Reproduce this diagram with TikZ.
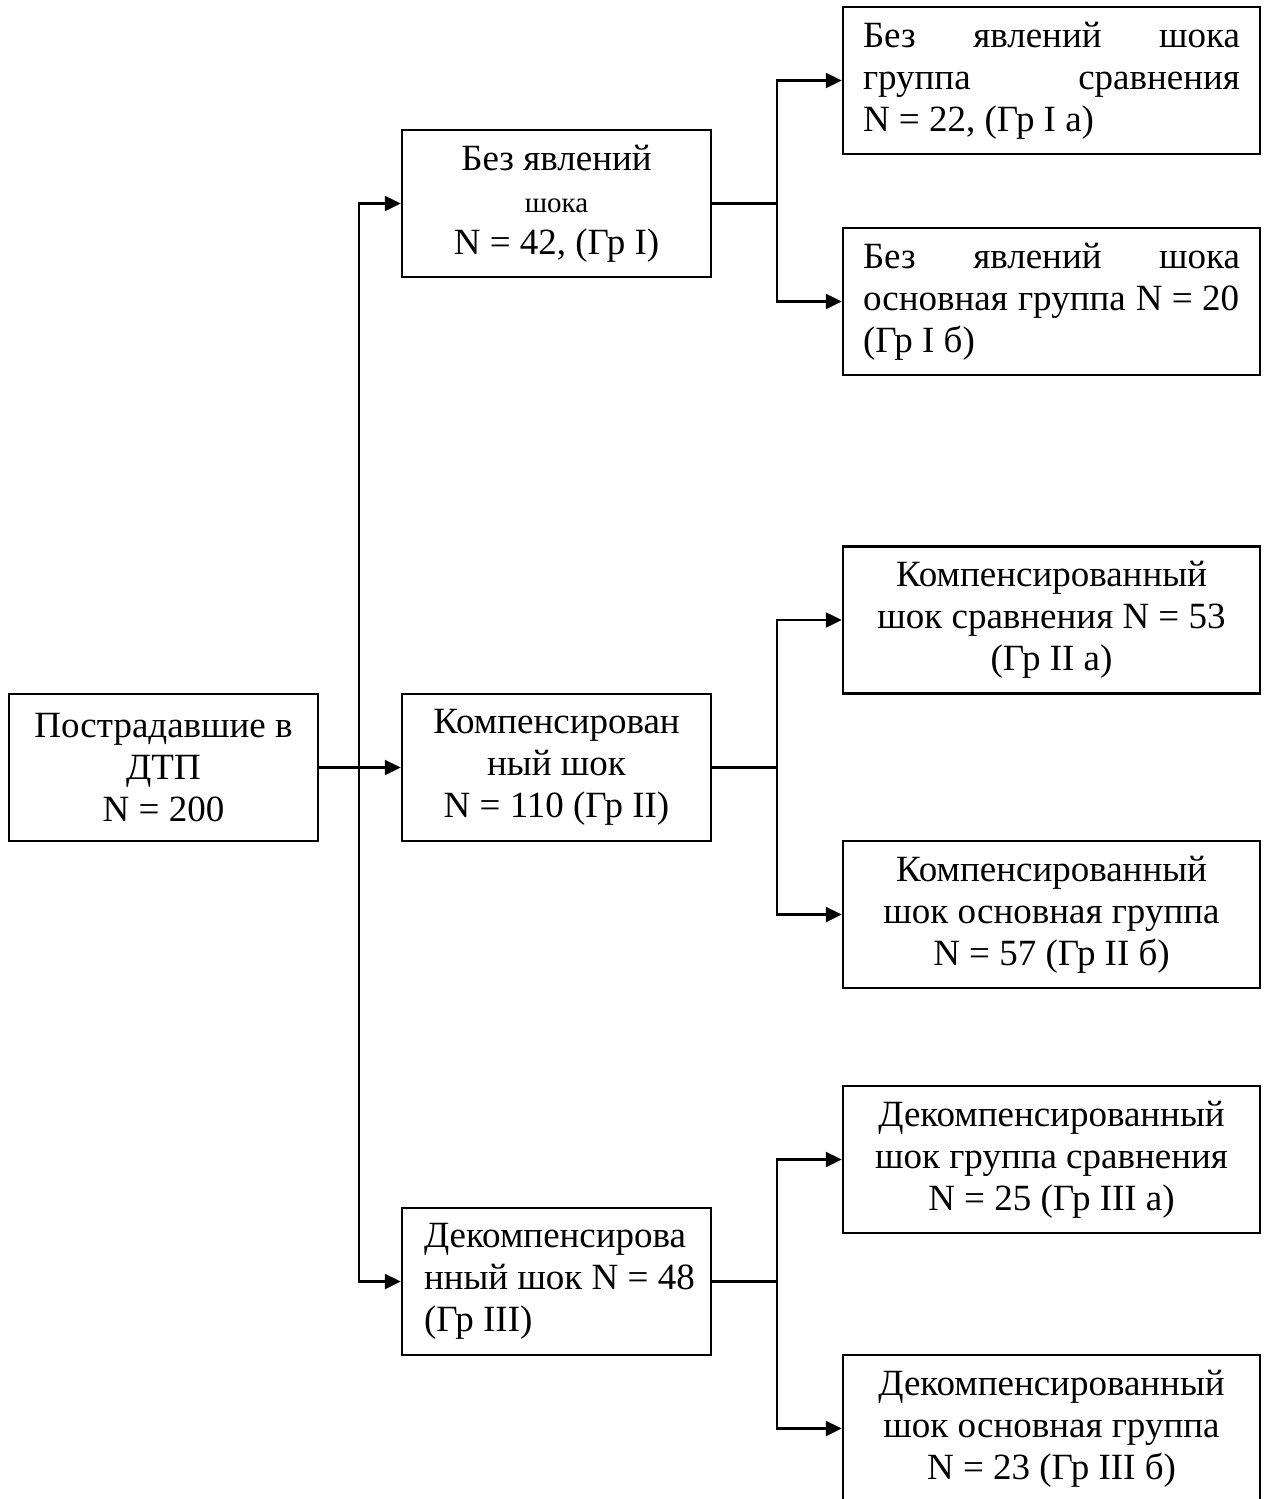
\documentclass[tikz,border=0pt]{standalone}
\usepackage{fontspec}
\setmainfont{Liberation Serif}
\usetikzlibrary{arrows.meta}
\newcommand{\jline}[1]{\makebox[377pt][l]{#1}}
\newcommand{\lline}[1]{\makebox[265pt][l]{#1}}
\begin{document}
\begin{tikzpicture}[x=1pt,y=-1pt,
  box/.style={draw,line width=2.5pt,inner sep=0pt,minimum height=147pt,align=center,font=\fontsize{37}{42}\selectfont},
  narrow/.style={box,minimum width=309pt},
  wide/.style={box,minimum width=417pt},
  conn/.style={line width=2.5pt},
  arr/.style={conn,-{Triangle[length=16pt,width=15pt]}}]
\useasboundingbox (0,0) rectangle (1271,1499);
\clip (0,0) rectangle (1271,1499);
% level 0
\node[narrow] (root) at (163.5,767.5) {Пострадавшие в\\ДТП\\N = 200};
% level 1
\node[narrow] (g1) at (556.5,203.5) {Без явлений\\{\fontsize{29}{36}\selectfont шока}\\N = 42, (Гр I)};
\node[narrow] (g2) at (556.5,767.5) {Компенсирован\\ный шок\\N = 110 (Гр II)};
\node[narrow] (g3) at (556.5,1281.5) {\lline{Декомпенсирова}\\\lline{нный шок N = 48}\\\lline{(Гр III)}};
% level 2
\node[wide] (g1a) at (1051.5,80.5) {\jline{Без\hfill явлений\hfill шока}\\\jline{группа\hfill сравнения}\\\jline{N = 22, (Гр I а)}};
\node[wide] (g1b) at (1051.5,301.5) {\jline{Без\hfill явлений\hfill шока}\\\jline{основная\hfil\ группа\hfil\ N = 20}\\\jline{(Гр I б)}};
\node[wide] (g2a) at (1051.5,620) {Компенсированный\\шок сравнения N = 53\\(Гр II а)};
\node[wide] (g2b) at (1051.5,914.5) {Компенсированный\\шок основная группа\\N = 57 (Гр II б)};
\node[wide] (g3a) at (1051.5,1159.5) {Декомпенсированный\\шок группа сравнения\\N = 25 (Гр III а)};
\node[wide] (g3b) at (1051.5,1428.5) {Декомпенсированный\\шок основная группа\\N = 23 (Гр III б)};
% connectors
\coordinate (trunk) at (359,767.5);
\coordinate (b1) at (777,203.5);
\coordinate (b2) at (777,767.5);
\coordinate (b3) at (777,1281.5);
\draw[arr] (root.east) -- (g2.west);
\draw[arr] (trunk) |- (g1.west);
\draw[arr] (trunk) |- (g3.west);
\draw[conn] (g1.east) -- (b1);
\draw[arr] (b1) |- (g1a.west);
\draw[arr] (b1) |- (g1b.west);
\draw[conn] (g2.east) -- (b2);
\draw[arr] (b2) |- (g2a.west);
\draw[arr] (b2) |- (g2b.west);
\draw[conn] (g3.east) -- (b3);
\draw[arr] (b3) |- (g3a.west);
\draw[arr] (b3) |- (g3b.west);
\end{tikzpicture}
\end{document}
